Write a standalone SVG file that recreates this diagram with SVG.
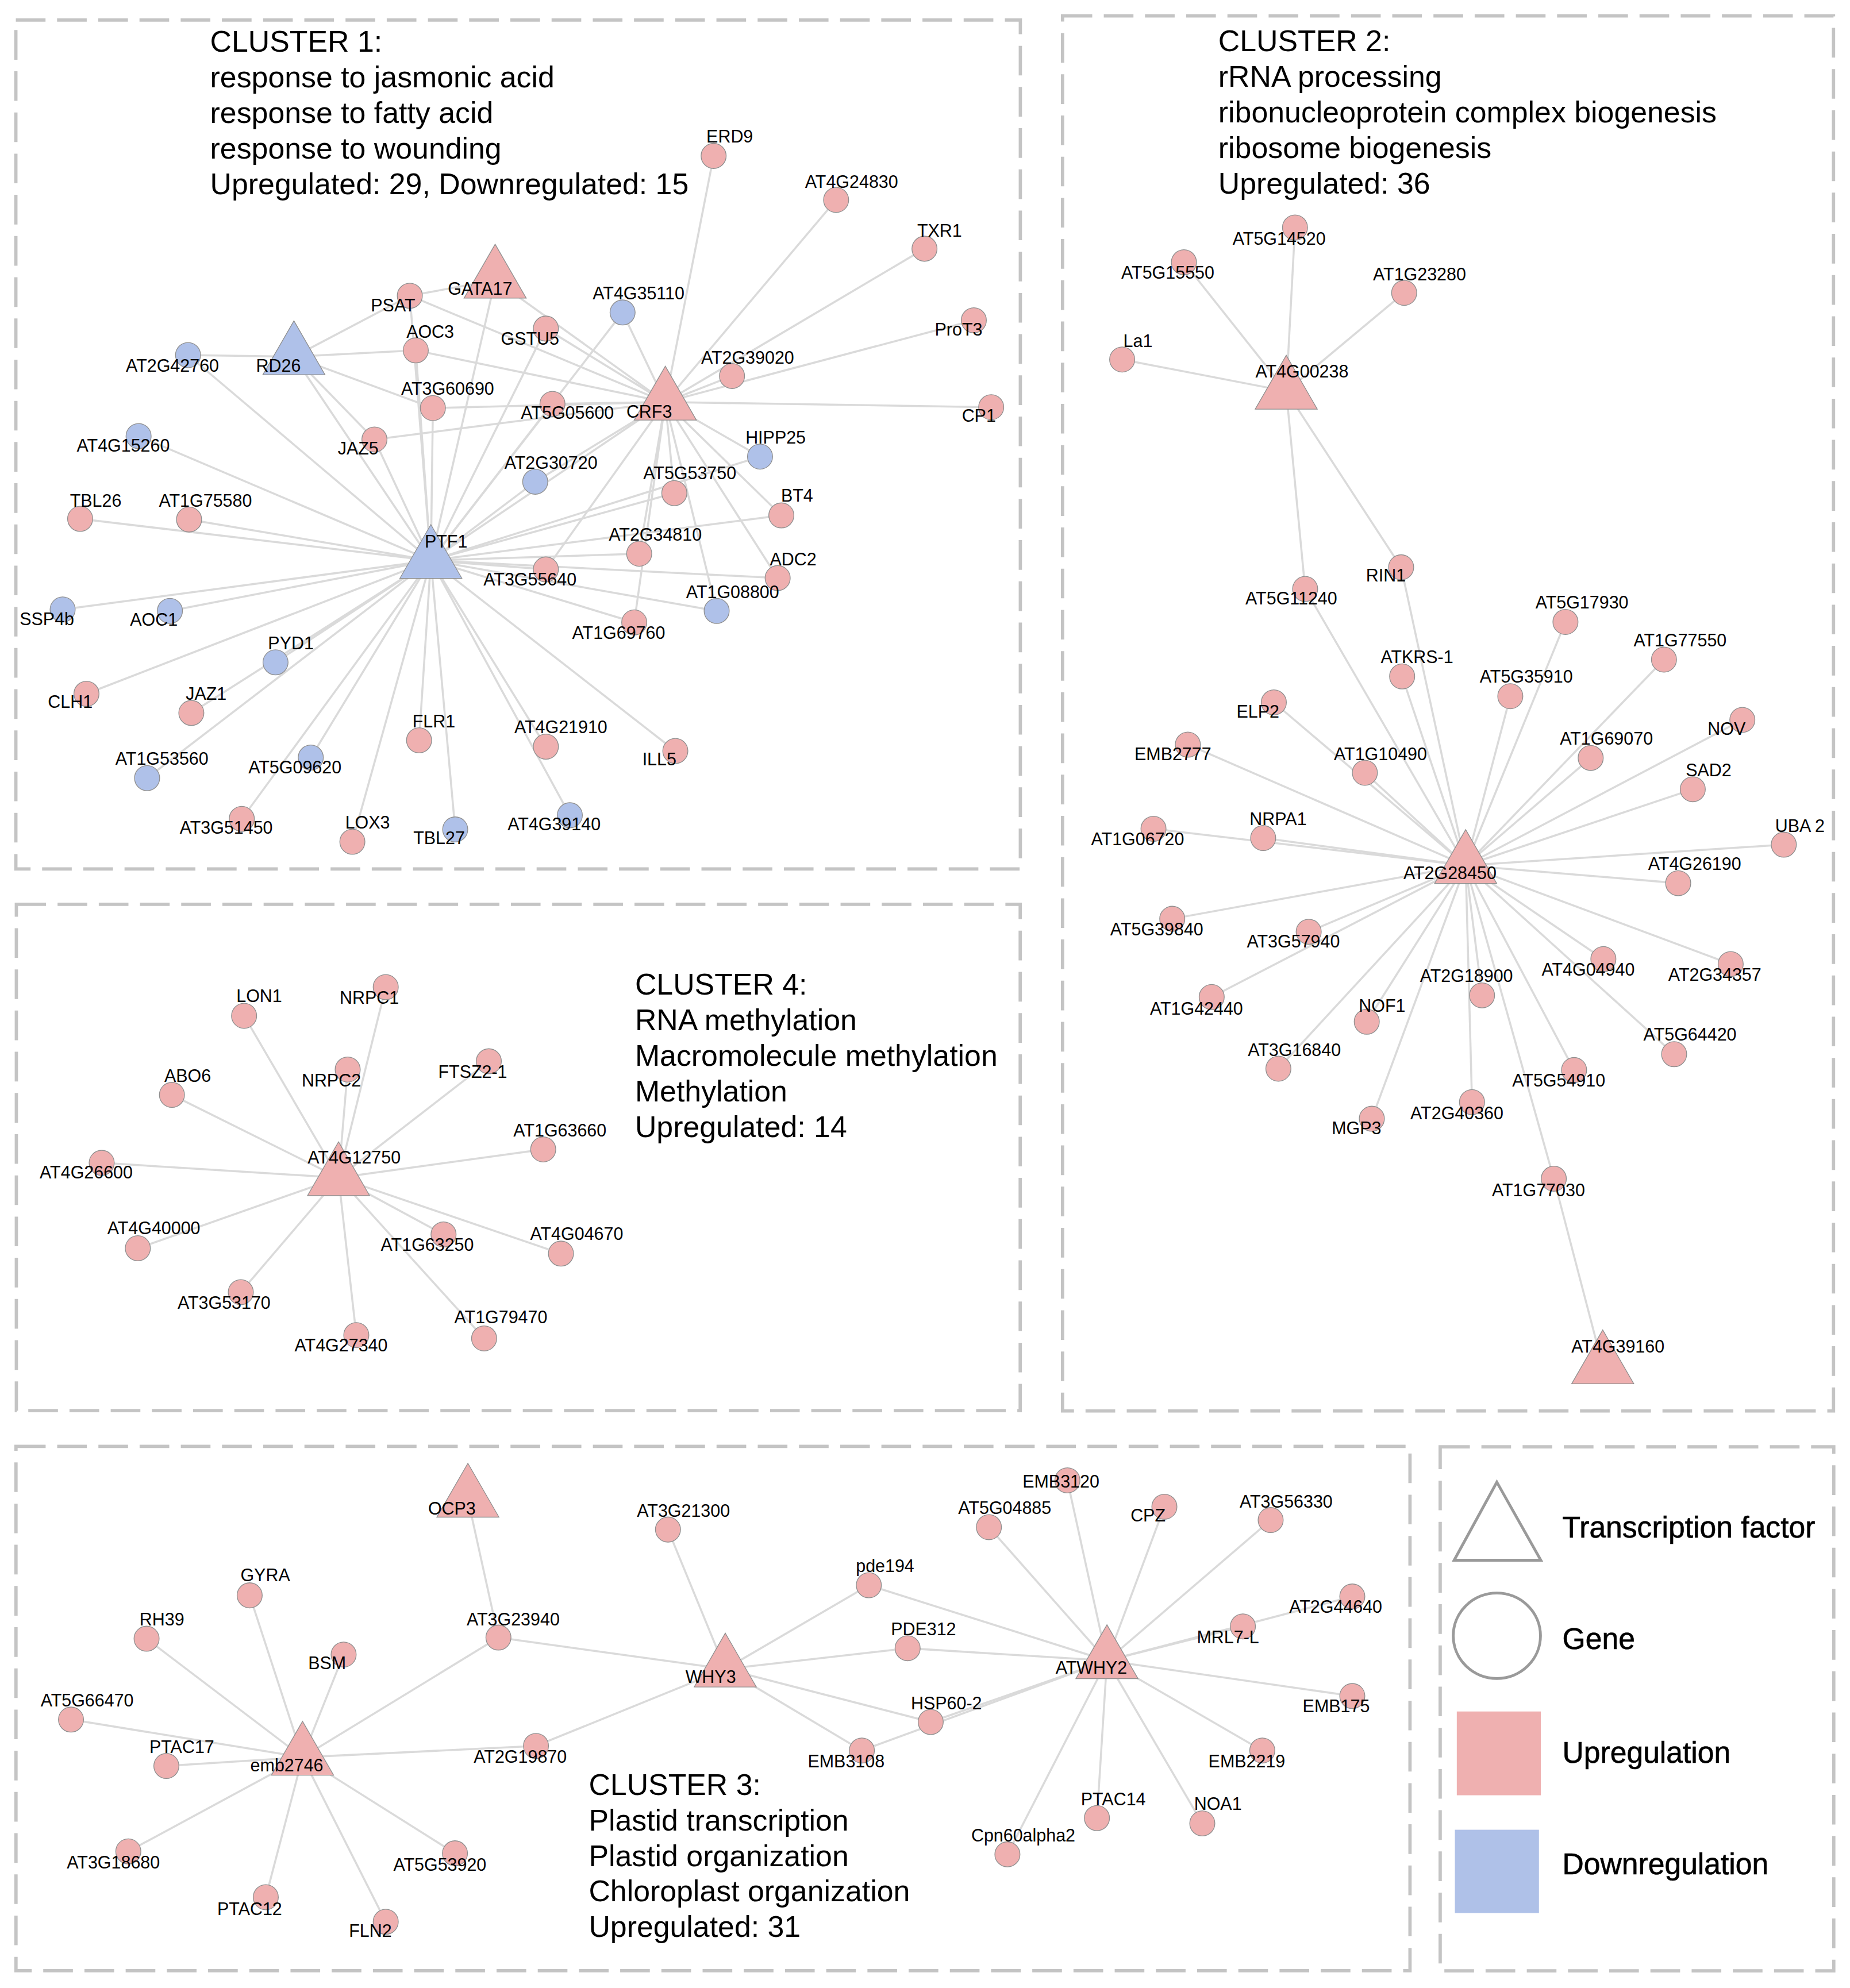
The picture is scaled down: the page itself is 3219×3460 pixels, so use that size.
<svg xmlns="http://www.w3.org/2000/svg" width="3219" height="3460" viewBox="0 0 3219 3460">
<style>
.e line{stroke:#dadada;stroke-width:1.6;fill:none}
.up{fill:#efb0b0;stroke:#8f8f8f;stroke-width:0.6}
.dn{fill:#afc1e9;stroke:#8f8f8f;stroke-width:0.6}
.l{font-family:"Liberation Sans",Arial,sans-serif;font-size:13.8px;text-anchor:middle;fill:#000}
.t{font-family:"Liberation Sans",Arial,sans-serif;font-size:23.5px;fill:#000}
.box{fill:none;stroke:#c4c4c4;stroke-width:2.6;stroke-dasharray:23.4 9.1}
.lg{font-family:"Liberation Sans",Arial,sans-serif;font-size:23.4px;fill:#000;stroke:#000;stroke-width:0.3}
.lgs{fill:#fff;stroke:#9a9a9a;stroke-width:2.2}
</style>
<rect width="3219" height="3460" fill="#fff"/>
<g transform="scale(2.2063)">
<g id="frames">
<rect class="box" x="12.5" y="15.8" width="792.2" height="669.7"/>
<rect class="box" x="838" y="12.5" width="608" height="1100.5"/>
<rect class="box" x="12.9" y="713.4" width="791.7" height="399.4"/>
<rect class="box" x="12.6" y="1141" width="1099.4" height="413.6"/>
<rect class="box" x="1135.8" y="1141.3" width="310.4" height="413.4"/>
</g>
<g id="titles">
<text class="t" x="165.7" y="40.6">CLUSTER 1:<tspan x="165.7" dy="28.1">response to jasmonic acid</tspan><tspan x="165.7" dy="28.1">response to fatty acid</tspan><tspan x="165.7" dy="28.1">response to wounding</tspan><tspan x="165.7" dy="28.1">Upregulated: 29, Downregulated: 15</tspan></text>
<text class="t" x="960.8" y="40.3">CLUSTER 2:<tspan x="960.8" dy="28.1">rRNA processing</tspan><tspan x="960.8" dy="28.1">ribonucleoprotein complex biogenesis</tspan><tspan x="960.8" dy="28.1">ribosome biogenesis</tspan><tspan x="960.8" dy="28.1">Upregulated: 36</tspan></text>
<text class="t" x="500.8" y="784.4">CLUSTER 4:<tspan x="500.8" dy="28.1">RNA methylation</tspan><tspan x="500.8" dy="28.1">Macromolecule methylation</tspan><tspan x="500.8" dy="28.1">Methylation</tspan><tspan x="500.8" dy="28.1">Upregulated: 14</tspan></text>
<text class="t" x="464.3" y="1416">CLUSTER 3:<tspan x="464.3" dy="28">Plastid transcription</tspan><tspan x="464.3" dy="28">Plastid organization</tspan><tspan x="464.3" dy="28">Chloroplast organization</tspan><tspan x="464.3" dy="28">Upregulated: 31</tspan></text>
</g>
<g id="connectors" class="e">
<line x1="339.8" y1="442.1" x2="148.3" y2="280.1"/>
<line x1="339.8" y1="442.1" x2="231.8" y2="281.4"/>
<line x1="339.8" y1="442.1" x2="295.3" y2="346.7"/>
<line x1="339.8" y1="442.1" x2="390.5" y2="221"/>
<line x1="339.8" y1="442.1" x2="323.2" y2="233.3"/>
<line x1="339.8" y1="442.1" x2="327.9" y2="276.4"/>
<line x1="339.8" y1="442.1" x2="341.4" y2="321.9"/>
<line x1="339.8" y1="442.1" x2="435.7" y2="318.6"/>
<line x1="339.8" y1="442.1" x2="430.5" y2="259.2"/>
<line x1="339.8" y1="442.1" x2="491" y2="246.5"/>
<line x1="339.8" y1="442.1" x2="422.1" y2="380"/>
<line x1="339.8" y1="442.1" x2="524.7" y2="317.2"/>
<line x1="339.8" y1="442.1" x2="531.8" y2="389"/>
<line x1="339.8" y1="442.1" x2="599.4" y2="360.2"/>
<line x1="339.8" y1="442.1" x2="616.2" y2="406.6"/>
<line x1="339.8" y1="442.1" x2="504.1" y2="436.8"/>
<line x1="339.8" y1="442.1" x2="430.5" y2="449.2"/>
<line x1="339.8" y1="442.1" x2="613.3" y2="456"/>
<line x1="339.8" y1="442.1" x2="565.2" y2="481.9"/>
<line x1="339.8" y1="442.1" x2="500.2" y2="491"/>
<line x1="339.8" y1="442.1" x2="109.3" y2="344"/>
<line x1="339.8" y1="442.1" x2="63.2" y2="409.3"/>
<line x1="339.8" y1="442.1" x2="149.1" y2="409.8"/>
<line x1="339.8" y1="442.1" x2="49.4" y2="480.8"/>
<line x1="339.8" y1="442.1" x2="134" y2="481.9"/>
<line x1="339.8" y1="442.1" x2="68.2" y2="547.3"/>
<line x1="339.8" y1="442.1" x2="217.3" y2="522.5"/>
<line x1="339.8" y1="442.1" x2="150.9" y2="562.4"/>
<line x1="339.8" y1="442.1" x2="116" y2="613.8"/>
<line x1="339.8" y1="442.1" x2="245.1" y2="597.6"/>
<line x1="339.8" y1="442.1" x2="190.7" y2="646"/>
<line x1="339.8" y1="442.1" x2="277.9" y2="664"/>
<line x1="339.8" y1="442.1" x2="330.5" y2="584"/>
<line x1="339.8" y1="442.1" x2="359" y2="654.3"/>
<line x1="339.8" y1="442.1" x2="430.5" y2="589"/>
<line x1="339.8" y1="442.1" x2="449.4" y2="643.1"/>
<line x1="339.8" y1="442.1" x2="532.6" y2="592.4"/>
<line x1="524.7" y1="317.2" x2="390.5" y2="221"/>
<line x1="524.7" y1="317.2" x2="323.2" y2="233.3"/>
<line x1="524.7" y1="317.2" x2="327.9" y2="276.4"/>
<line x1="524.7" y1="317.2" x2="341.4" y2="321.9"/>
<line x1="524.7" y1="317.2" x2="430.5" y2="259.2"/>
<line x1="524.7" y1="317.2" x2="491" y2="246.5"/>
<line x1="524.7" y1="317.2" x2="435.7" y2="318.6"/>
<line x1="524.7" y1="317.2" x2="562.8" y2="123"/>
<line x1="524.7" y1="317.2" x2="659.4" y2="157.7"/>
<line x1="524.7" y1="317.2" x2="729.1" y2="196.2"/>
<line x1="524.7" y1="317.2" x2="768" y2="252.7"/>
<line x1="524.7" y1="317.2" x2="577.3" y2="296.6"/>
<line x1="524.7" y1="317.2" x2="781.7" y2="321.2"/>
<line x1="524.7" y1="317.2" x2="599.4" y2="360.2"/>
<line x1="524.7" y1="317.2" x2="422.1" y2="380"/>
<line x1="524.7" y1="317.2" x2="531.8" y2="389"/>
<line x1="524.7" y1="317.2" x2="616.2" y2="406.6"/>
<line x1="524.7" y1="317.2" x2="504.1" y2="436.8"/>
<line x1="524.7" y1="317.2" x2="430.5" y2="449.2"/>
<line x1="524.7" y1="317.2" x2="613.3" y2="456"/>
<line x1="524.7" y1="317.2" x2="565.2" y2="481.9"/>
<line x1="524.7" y1="317.2" x2="500.2" y2="491"/>
<line x1="524.7" y1="317.2" x2="295.3" y2="346.7"/>
<line x1="231.8" y1="281.4" x2="148.3" y2="280.1"/>
<line x1="231.8" y1="281.4" x2="323.2" y2="233.3"/>
<line x1="231.8" y1="281.4" x2="327.9" y2="276.4"/>
<line x1="231.8" y1="281.4" x2="341.4" y2="321.9"/>
<line x1="231.8" y1="281.4" x2="295.3" y2="346.7"/>
<line x1="390.5" y1="221" x2="323.2" y2="233.3"/>
<line x1="1014.4" y1="308.6" x2="1021.3" y2="179.5"/>
<line x1="1014.4" y1="308.6" x2="933.7" y2="206.9"/>
<line x1="1014.4" y1="308.6" x2="1107.4" y2="231"/>
<line x1="1014.4" y1="308.6" x2="885" y2="283.6"/>
<line x1="1014.4" y1="308.6" x2="1029.3" y2="464.6"/>
<line x1="1014.4" y1="308.6" x2="1105" y2="447.5"/>
<line x1="1155.9" y1="682.7" x2="1105" y2="447.5"/>
<line x1="1155.9" y1="682.7" x2="1029.3" y2="464.6"/>
<line x1="1155.9" y1="682.7" x2="1234.6" y2="490.6"/>
<line x1="1155.9" y1="682.7" x2="1312.3" y2="520.3"/>
<line x1="1155.9" y1="682.7" x2="1105.8" y2="533.6"/>
<line x1="1155.9" y1="682.7" x2="1191.1" y2="549.2"/>
<line x1="1155.9" y1="682.7" x2="1004.6" y2="554.1"/>
<line x1="1155.9" y1="682.7" x2="1374.1" y2="567.9"/>
<line x1="1155.9" y1="682.7" x2="936.8" y2="587.4"/>
<line x1="1155.9" y1="682.7" x2="1076.4" y2="609.6"/>
<line x1="1155.9" y1="682.7" x2="1254.5" y2="597.9"/>
<line x1="1155.9" y1="682.7" x2="1335" y2="622.6"/>
<line x1="1155.9" y1="682.7" x2="909.7" y2="653.8"/>
<line x1="1155.9" y1="682.7" x2="996.2" y2="661.1"/>
<line x1="1155.9" y1="682.7" x2="1406.8" y2="666.3"/>
<line x1="1155.9" y1="682.7" x2="1323.5" y2="696.7"/>
<line x1="1155.9" y1="682.7" x2="924.5" y2="724.8"/>
<line x1="1155.9" y1="682.7" x2="1032.1" y2="735"/>
<line x1="1155.9" y1="682.7" x2="1264.5" y2="756.6"/>
<line x1="1155.9" y1="682.7" x2="1364.9" y2="760.5"/>
<line x1="1155.9" y1="682.7" x2="1168.8" y2="785.2"/>
<line x1="1155.9" y1="682.7" x2="955.6" y2="786.5"/>
<line x1="1155.9" y1="682.7" x2="1077.9" y2="806"/>
<line x1="1155.9" y1="682.7" x2="1008.2" y2="843"/>
<line x1="1155.9" y1="682.7" x2="1320.3" y2="831.6"/>
<line x1="1155.9" y1="682.7" x2="1241.4" y2="844.1"/>
<line x1="1155.9" y1="682.7" x2="1160.9" y2="869.4"/>
<line x1="1155.9" y1="682.7" x2="1081.9" y2="882.5"/>
<line x1="1155.9" y1="682.7" x2="1225.4" y2="929.8"/>
<line x1="1225.4" y1="929.8" x2="1264" y2="1077.4"/>
<line x1="267" y1="929" x2="192.5" y2="801.3"/>
<line x1="267" y1="929" x2="304.2" y2="778.7"/>
<line x1="267" y1="929" x2="135.6" y2="863.7"/>
<line x1="267" y1="929" x2="274.2" y2="843.7"/>
<line x1="267" y1="929" x2="385.5" y2="837.2"/>
<line x1="267" y1="929" x2="428.4" y2="906.7"/>
<line x1="267" y1="929" x2="80.2" y2="917.3"/>
<line x1="267" y1="929" x2="108.7" y2="984.7"/>
<line x1="267" y1="929" x2="349.8" y2="973.8"/>
<line x1="267" y1="929" x2="442.4" y2="988.9"/>
<line x1="267" y1="929" x2="189.9" y2="1019.3"/>
<line x1="267" y1="929" x2="381.8" y2="1055.8"/>
<line x1="267" y1="929" x2="281" y2="1053.2"/>
<line x1="369" y1="1182.6" x2="393.1" y2="1291.8"/>
<line x1="238.6" y1="1386.2" x2="196.9" y2="1258.5"/>
<line x1="238.6" y1="1386.2" x2="115.6" y2="1292.7"/>
<line x1="238.6" y1="1386.2" x2="271" y2="1305.2"/>
<line x1="238.6" y1="1386.2" x2="56" y2="1356.5"/>
<line x1="238.6" y1="1386.2" x2="131.2" y2="1393.1"/>
<line x1="238.6" y1="1386.2" x2="422.7" y2="1377.3"/>
<line x1="238.6" y1="1386.2" x2="101.2" y2="1460.5"/>
<line x1="238.6" y1="1386.2" x2="358.8" y2="1462"/>
<line x1="238.6" y1="1386.2" x2="209.6" y2="1496.6"/>
<line x1="238.6" y1="1386.2" x2="304.2" y2="1516"/>
<line x1="238.6" y1="1386.2" x2="393.1" y2="1291.8"/>
<line x1="572" y1="1316.6" x2="526.8" y2="1206.6"/>
<line x1="572" y1="1316.6" x2="393.1" y2="1291.8"/>
<line x1="572" y1="1316.6" x2="422.7" y2="1377.3"/>
<line x1="572" y1="1316.6" x2="685.2" y2="1250.5"/>
<line x1="572" y1="1316.6" x2="715.8" y2="1300.2"/>
<line x1="572" y1="1316.6" x2="734" y2="1358.4"/>
<line x1="572" y1="1316.6" x2="679.7" y2="1380.9"/>
<line x1="873" y1="1310" x2="685.2" y2="1250.5"/>
<line x1="873" y1="1310" x2="715.8" y2="1300.2"/>
<line x1="873" y1="1310" x2="734" y2="1358.4"/>
<line x1="873" y1="1310" x2="679.7" y2="1380.9"/>
<line x1="873" y1="1310" x2="779.9" y2="1204.7"/>
<line x1="873" y1="1310" x2="841.8" y2="1167.8"/>
<line x1="873" y1="1310" x2="918.3" y2="1188.6"/>
<line x1="873" y1="1310" x2="1002.1" y2="1199.1"/>
<line x1="873" y1="1310" x2="980.2" y2="1283"/>
<line x1="873" y1="1310" x2="1066.5" y2="1259.4"/>
<line x1="873" y1="1310" x2="1066.5" y2="1337.9"/>
<line x1="873" y1="1310" x2="995.5" y2="1380.9"/>
<line x1="873" y1="1310" x2="948.2" y2="1438.4"/>
<line x1="873" y1="1310" x2="865.1" y2="1434.2"/>
<line x1="873" y1="1310" x2="794.5" y2="1462.8"/>
</g>
<g id="nodes-cluster1">
<g id="n-PSAT"><circle class="up" cx="323.2" cy="233.3" r="9.9"/><text class="l" x="310" y="245.6">PSAT</text></g>
<g id="n-AOC3"><circle class="up" cx="327.9" cy="276.4" r="9.9"/><text class="l" x="339.3" y="266.3">AOC3</text></g>
<g id="n-AT2G42760"><circle class="dn" cx="148.3" cy="280.1" r="9.9"/><text class="l" x="136" y="293.3">AT2G42760</text></g>
<g id="n-AT3G60690"><circle class="up" cx="341.4" cy="321.9" r="9.9"/><text class="l" x="353" y="311.5">AT3G60690</text></g>
<g id="n-GSTU5"><circle class="up" cx="430.5" cy="259.2" r="9.9"/><text class="l" x="418" y="271.8">GSTU5</text></g>
<g id="n-AT4G15260"><circle class="dn" cx="109.3" cy="344" r="9.9"/><text class="l" x="97.2" y="356.1">AT4G15260</text></g>
<g id="n-ERD9"><circle class="up" cx="562.8" cy="123" r="9.9"/><text class="l" x="575.5" y="112.5">ERD9</text></g>
<g id="n-AT4G24830"><circle class="up" cx="659.4" cy="157.7" r="9.9"/><text class="l" x="671.6" y="148.3">AT4G24830</text></g>
<g id="n-TXR1"><circle class="up" cx="729.1" cy="196.2" r="9.9"/><text class="l" x="741" y="186.7">TXR1</text></g>
<g id="n-AT4G35110"><circle class="dn" cx="491" cy="246.5" r="9.9"/><text class="l" x="503.6" y="236.2">AT4G35110</text></g>
<g id="n-ProT3"><circle class="up" cx="768" cy="252.7" r="9.9"/><text class="l" x="756" y="264.7">ProT3</text></g>
<g id="n-AT2G39020"><circle class="up" cx="577.3" cy="296.6" r="9.9"/><text class="l" x="589.6" y="286.7">AT2G39020</text></g>
<g id="n-AT5G05600"><circle class="up" cx="435.7" cy="318.6" r="9.9"/><text class="l" x="447.5" y="330.6">AT5G05600</text></g>
<g id="n-CP1"><circle class="up" cx="781.7" cy="321.2" r="9.9"/><text class="l" x="772" y="332.8">CP1</text></g>
<g id="n-HIPP25"><circle class="dn" cx="599.4" cy="360.2" r="9.9"/><text class="l" x="611.7" y="350">HIPP25</text></g>
<g id="n-JAZ5"><circle class="up" cx="295.3" cy="346.7" r="9.9"/><text class="l" x="282.5" y="358.4">JAZ5</text></g>
<g id="n-TBL26"><circle class="up" cx="63.2" cy="409.3" r="9.9"/><text class="l" x="75.5" y="399.6">TBL26</text></g>
<g id="n-AT1G75580"><circle class="up" cx="149.1" cy="409.8" r="9.9"/><text class="l" x="162" y="399.6">AT1G75580</text></g>
<g id="n-SSP4b"><circle class="dn" cx="49.4" cy="480.8" r="9.9"/><text class="l" x="37" y="493.2">SSP4b</text></g>
<g id="n-AOC1"><circle class="dn" cx="134" cy="481.9" r="9.9"/><text class="l" x="121.3" y="493.6">AOC1</text></g>
<g id="n-PYD1"><circle class="dn" cx="217.3" cy="522.5" r="9.9"/><text class="l" x="229.4" y="512.3">PYD1</text></g>
<g id="n-CLH1"><circle class="up" cx="68.2" cy="547.3" r="9.9"/><text class="l" x="55.4" y="558.5">CLH1</text></g>
<g id="n-JAZ1"><circle class="up" cx="150.9" cy="562.4" r="9.9"/><text class="l" x="162.6" y="552.2">JAZ1</text></g>
<g id="n-FLR1"><circle class="up" cx="330.5" cy="584" r="9.9"/><text class="l" x="342.2" y="573.9">FLR1</text></g>
<g id="n-AT1G53560"><circle class="dn" cx="116" cy="613.8" r="9.9"/><text class="l" x="127.7" y="603.2">AT1G53560</text></g>
<g id="n-AT5G09620"><circle class="dn" cx="245.1" cy="597.6" r="9.9"/><text class="l" x="232.6" y="609.9">AT5G09620</text></g>
<g id="n-AT3G51450"><circle class="up" cx="190.7" cy="646" r="9.9"/><text class="l" x="178.4" y="657.7">AT3G51450</text></g>
<g id="n-LOX3"><circle class="up" cx="277.9" cy="664" r="9.9"/><text class="l" x="289.9" y="653.7">LOX3</text></g>
<g id="n-TBL27"><circle class="dn" cx="359" cy="654.3" r="9.9"/><text class="l" x="346.3" y="665.6">TBL27</text></g>
<g id="n-AT2G30720"><circle class="dn" cx="422.1" cy="380" r="9.9"/><text class="l" x="434.5" y="369.7">AT2G30720</text></g>
<g id="n-AT5G53750"><circle class="up" cx="531.8" cy="389" r="9.9"/><text class="l" x="544" y="378.2">AT5G53750</text></g>
<g id="n-BT4"><circle class="up" cx="616.2" cy="406.6" r="9.9"/><text class="l" x="628.6" y="395.8">BT4</text></g>
<g id="n-AT2G34810"><circle class="up" cx="504.1" cy="436.8" r="9.9"/><text class="l" x="516.8" y="426.7">AT2G34810</text></g>
<g id="n-AT3G55640"><circle class="up" cx="430.5" cy="449.2" r="9.9"/><text class="l" x="418" y="462">AT3G55640</text></g>
<g id="n-ADC2"><circle class="up" cx="613.3" cy="456" r="9.9"/><text class="l" x="625.5" y="445.8">ADC2</text></g>
<g id="n-AT1G08800"><circle class="dn" cx="565.2" cy="481.9" r="9.9"/><text class="l" x="577.8" y="471.8">AT1G08800</text></g>
<g id="n-AT1G69760"><circle class="up" cx="500.2" cy="491" r="9.9"/><text class="l" x="487.9" y="504">AT1G69760</text></g>
<g id="n-AT4G21910"><circle class="up" cx="430.5" cy="589" r="9.9"/><text class="l" x="442.3" y="578.4">AT4G21910</text></g>
<g id="n-ILL5"><circle class="up" cx="532.6" cy="592.4" r="9.9"/><text class="l" x="520" y="603.6">ILL5</text></g>
<g id="n-AT4G39140"><circle class="dn" cx="449.4" cy="643.1" r="9.9"/><text class="l" x="437" y="655">AT4G39140</text></g>
<g id="n-GATA17"><path class="up" d="M390.5 192.7l24.5 42.5h-49z"/><text class="l" x="378.6" y="232.4">GATA17</text></g>
<g id="n-RD26"><path class="dn" d="M231.8 253.1l24.5 42.5h-49z"/><text class="l" x="219.6" y="293.3">RD26</text></g>
<g id="n-CRF3"><path class="up" d="M524.7 288.9l24.5 42.5h-49z"/><text class="l" x="512" y="329.5">CRF3</text></g>
<g id="n-PTF1"><path class="dn" d="M339.8 413.8l24.5 42.5h-49z"/><text class="l" x="351.8" y="432">PTF1</text></g>
</g>
<g id="nodes-cluster2">
<g id="n-AT5G14520"><circle class="up" cx="1021.3" cy="179.5" r="9.9"/><text class="l" x="1008.8" y="193">AT5G14520</text></g>
<g id="n-AT5G15550"><circle class="up" cx="933.7" cy="206.9" r="9.9"/><text class="l" x="921" y="219.9">AT5G15550</text></g>
<g id="n-AT1G23280"><circle class="up" cx="1107.4" cy="231" r="9.9"/><text class="l" x="1119.5" y="221.2">AT1G23280</text></g>
<g id="n-La1"><circle class="up" cx="885" cy="283.6" r="9.9"/><text class="l" x="897.4" y="273.7">La1</text></g>
<g id="n-RIN1"><circle class="up" cx="1105" cy="447.5" r="9.9"/><text class="l" x="1093" y="458.6">RIN1</text></g>
<g id="n-AT5G11240"><circle class="up" cx="1029.3" cy="464.6" r="9.9"/><text class="l" x="1018.4" y="476.9">AT5G11240</text></g>
<g id="n-AT5G17930"><circle class="up" cx="1234.6" cy="490.6" r="9.9"/><text class="l" x="1247.6" y="480.2">AT5G17930</text></g>
<g id="n-AT1G77550"><circle class="up" cx="1312.3" cy="520.3" r="9.9"/><text class="l" x="1325" y="509.9">AT1G77550</text></g>
<g id="n-ATKRS-1"><circle class="up" cx="1105.8" cy="533.6" r="9.9"/><text class="l" x="1117.5" y="522.9">ATKRS-1</text></g>
<g id="n-AT5G35910"><circle class="up" cx="1191.1" cy="549.2" r="9.9"/><text class="l" x="1203.7" y="538.5">AT5G35910</text></g>
<g id="n-ELP2"><circle class="up" cx="1004.6" cy="554.1" r="9.9"/><text class="l" x="992" y="566.1">ELP2</text></g>
<g id="n-NOV"><circle class="up" cx="1374.1" cy="567.9" r="9.9"/><text class="l" x="1361.7" y="579.6">NOV</text></g>
<g id="n-EMB2777"><circle class="up" cx="936.8" cy="587.4" r="9.9"/><text class="l" x="925" y="599.7">EMB2777</text></g>
<g id="n-AT1G10490"><circle class="up" cx="1076.4" cy="609.6" r="9.9"/><text class="l" x="1088.7" y="599.7">AT1G10490</text></g>
<g id="n-AT1G69070"><circle class="up" cx="1254.5" cy="597.9" r="9.9"/><text class="l" x="1266.9" y="587.4">AT1G69070</text></g>
<g id="n-SAD2"><circle class="up" cx="1335" cy="622.6" r="9.9"/><text class="l" x="1347.5" y="612.2">SAD2</text></g>
<g id="n-AT1G06720"><circle class="up" cx="909.7" cy="653.8" r="9.9"/><text class="l" x="897.2" y="666.8">AT1G06720</text></g>
<g id="n-NRPA1"><circle class="up" cx="996.2" cy="661.1" r="9.9"/><text class="l" x="1008" y="650.7">NRPA1</text></g>
<g id="n-UBA2"><circle class="up" cx="1406.8" cy="666.3" r="9.9"/><text class="l" x="1419.5" y="656.4">UBA 2</text></g>
<g id="n-AT4G26190"><circle class="up" cx="1323.5" cy="696.7" r="9.9"/><text class="l" x="1336.5" y="686.3">AT4G26190</text></g>
<g id="n-AT5G39840"><circle class="up" cx="924.5" cy="724.8" r="9.9"/><text class="l" x="912.3" y="737.8">AT5G39840</text></g>
<g id="n-AT3G57940"><circle class="up" cx="1032.1" cy="735" r="9.9"/><text class="l" x="1020" y="747.5">AT3G57940</text></g>
<g id="n-AT4G04940"><circle class="up" cx="1264.5" cy="756.6" r="9.9"/><text class="l" x="1252.5" y="769.6">AT4G04940</text></g>
<g id="n-AT2G34357"><circle class="up" cx="1364.9" cy="760.5" r="9.9"/><text class="l" x="1352.4" y="773.5">AT2G34357</text></g>
<g id="n-AT2G18900"><circle class="up" cx="1168.8" cy="785.2" r="9.9"/><text class="l" x="1156.5" y="774.8">AT2G18900</text></g>
<g id="n-AT1G42440"><circle class="up" cx="955.6" cy="786.5" r="9.9"/><text class="l" x="943.6" y="800.3">AT1G42440</text></g>
<g id="n-NOF1"><circle class="up" cx="1077.9" cy="806" r="9.9"/><text class="l" x="1090" y="798.2">NOF1</text></g>
<g id="n-AT3G16840"><circle class="up" cx="1008.2" cy="843" r="9.9"/><text class="l" x="1020.8" y="833.1">AT3G16840</text></g>
<g id="n-AT5G64420"><circle class="up" cx="1320.3" cy="831.6" r="9.9"/><text class="l" x="1332.8" y="821">AT5G64420</text></g>
<g id="n-AT5G54910"><circle class="up" cx="1241.4" cy="844.1" r="9.9"/><text class="l" x="1229.3" y="857.3">AT5G54910</text></g>
<g id="n-AT2G40360"><circle class="up" cx="1160.9" cy="869.4" r="9.9"/><text class="l" x="1149" y="883">AT2G40360</text></g>
<g id="n-MGP3"><circle class="up" cx="1081.9" cy="882.5" r="9.9"/><text class="l" x="1069.8" y="894.6">MGP3</text></g>
<g id="n-AT1G77030"><circle class="up" cx="1225.4" cy="929.8" r="9.9"/><text class="l" x="1213.3" y="943.6">AT1G77030</text></g>
<g id="n-AT4G00238"><path class="up" d="M1014.4 280.3l24.5 42.5h-49z"/><text class="l" x="1026.8" y="298">AT4G00238</text></g>
<g id="n-AT2G28450"><path class="up" d="M1155.9 654.4l24.5 42.5h-49z"/><text class="l" x="1143.5" y="693.3">AT2G28450</text></g>
<g id="n-AT4G39160"><path class="up" d="M1264 1049.1l24.5 42.5h-49z"/><text class="l" x="1276" y="1067">AT4G39160</text></g>
</g>
<g id="nodes-cluster4">
<g id="n-LON1"><circle class="up" cx="192.5" cy="801.3" r="9.9"/><text class="l" x="204.4" y="790.4">LON1</text></g>
<g id="n-NRPC1"><circle class="up" cx="304.2" cy="778.7" r="9.9"/><text class="l" x="291.3" y="791.7">NRPC1</text></g>
<g id="n-ABO6"><circle class="up" cx="135.6" cy="863.7" r="9.9"/><text class="l" x="148" y="853.6">ABO6</text></g>
<g id="n-NRPC2"><circle class="up" cx="274.2" cy="843.7" r="9.9"/><text class="l" x="261.3" y="857.2">NRPC2</text></g>
<g id="n-FTSZ2-1"><circle class="up" cx="385.5" cy="837.2" r="9.9"/><text class="l" x="372.8" y="850.2">FTSZ2-1</text></g>
<g id="n-AT1G63660"><circle class="up" cx="428.4" cy="906.7" r="9.9"/><text class="l" x="441.6" y="896.3">AT1G63660</text></g>
<g id="n-AT4G26600"><circle class="up" cx="80.2" cy="917.3" r="9.9"/><text class="l" x="68" y="929.6">AT4G26600</text></g>
<g id="n-AT4G40000"><circle class="up" cx="108.7" cy="984.7" r="9.9"/><text class="l" x="121.3" y="973.8">AT4G40000</text></g>
<g id="n-AT1G63250"><circle class="up" cx="349.8" cy="973.8" r="9.9"/><text class="l" x="337" y="986.8">AT1G63250</text></g>
<g id="n-AT4G04670"><circle class="up" cx="442.4" cy="988.9" r="9.9"/><text class="l" x="454.8" y="978.2">AT4G04670</text></g>
<g id="n-AT3G53170"><circle class="up" cx="189.9" cy="1019.3" r="9.9"/><text class="l" x="176.7" y="1032.4">AT3G53170</text></g>
<g id="n-AT1G79470"><circle class="up" cx="381.8" cy="1055.8" r="9.9"/><text class="l" x="395" y="1044">AT1G79470</text></g>
<g id="n-AT4G27340"><circle class="up" cx="281" cy="1053.2" r="9.9"/><text class="l" x="269" y="1066.2">AT4G27340</text></g>
<g id="n-AT4G12750"><path class="up" d="M267 900.7l24.5 42.5h-49z"/><text class="l" x="279.3" y="917.9">AT4G12750</text></g>
</g>
<g id="nodes-cluster3">
<g id="n-AT3G21300"><circle class="up" cx="526.8" cy="1206.6" r="9.9"/><text class="l" x="539" y="1196.4">AT3G21300</text></g>
<g id="n-GYRA"><circle class="up" cx="196.9" cy="1258.5" r="9.9"/><text class="l" x="209.2" y="1247.4">GYRA</text></g>
<g id="n-RH39"><circle class="up" cx="115.6" cy="1292.7" r="9.9"/><text class="l" x="127.7" y="1282.1">RH39</text></g>
<g id="n-BSM"><circle class="up" cx="271" cy="1305.2" r="9.9"/><text class="l" x="258" y="1316.8">BSM</text></g>
<g id="n-AT3G23940"><circle class="up" cx="393.1" cy="1291.8" r="9.9"/><text class="l" x="404.7" y="1282.1">AT3G23940</text></g>
<g id="n-AT5G66470"><circle class="up" cx="56" cy="1356.5" r="9.9"/><text class="l" x="68.7" y="1346.2">AT5G66470</text></g>
<g id="n-PTAC17"><circle class="up" cx="131.2" cy="1393.1" r="9.9"/><text class="l" x="143.4" y="1382.9">PTAC17</text></g>
<g id="n-AT2G19870"><circle class="up" cx="422.7" cy="1377.3" r="9.9"/><text class="l" x="410.3" y="1390.6">AT2G19870</text></g>
<g id="n-AT3G18680"><circle class="up" cx="101.2" cy="1460.5" r="9.9"/><text class="l" x="89.4" y="1473.9">AT3G18680</text></g>
<g id="n-AT5G53920"><circle class="up" cx="358.8" cy="1462" r="9.9"/><text class="l" x="346.9" y="1475.8">AT5G53920</text></g>
<g id="n-PTAC12"><circle class="up" cx="209.6" cy="1496.6" r="9.9"/><text class="l" x="196.9" y="1510.5">PTAC12</text></g>
<g id="n-FLN2"><circle class="up" cx="304.2" cy="1516" r="9.9"/><text class="l" x="292.1" y="1527.7">FLN2</text></g>
<g id="n-EMB3120"><circle class="up" cx="841.8" cy="1167.8" r="9.9"/><text class="l" x="836.7" y="1173.3">EMB3120</text></g>
<g id="n-AT5G04885"><circle class="up" cx="779.9" cy="1204.7" r="9.9"/><text class="l" x="792.4" y="1194.2">AT5G04885</text></g>
<g id="n-CPZ"><circle class="up" cx="918.3" cy="1188.6" r="9.9"/><text class="l" x="905.4" y="1200.3">CPZ</text></g>
<g id="n-AT3G56330"><circle class="up" cx="1002.1" cy="1199.1" r="9.9"/><text class="l" x="1014.3" y="1189.4">AT3G56330</text></g>
<g id="n-pde194"><circle class="up" cx="685.2" cy="1250.5" r="9.9"/><text class="l" x="698" y="1240">pde194</text></g>
<g id="n-AT2G44640"><circle class="up" cx="1066.5" cy="1259.4" r="9.9"/><text class="l" x="1053.4" y="1272.4">AT2G44640</text></g>
<g id="n-MRL7-L"><circle class="up" cx="980.2" cy="1283" r="9.9"/><text class="l" x="968.4" y="1296.3">MRL7-L</text></g>
<g id="n-PDE312"><circle class="up" cx="715.8" cy="1300.2" r="9.9"/><text class="l" x="728.3" y="1289.9">PDE312</text></g>
<g id="n-EMB175"><circle class="up" cx="1066.5" cy="1337.9" r="9.9"/><text class="l" x="1053.8" y="1350.9">EMB175</text></g>
<g id="n-HSP60-2"><circle class="up" cx="734" cy="1358.4" r="9.9"/><text class="l" x="746.4" y="1348.2">HSP60-2</text></g>
<g id="n-EMB3108"><circle class="up" cx="679.7" cy="1380.9" r="9.9"/><text class="l" x="667.3" y="1394">EMB3108</text></g>
<g id="n-EMB2219"><circle class="up" cx="995.5" cy="1380.9" r="9.9"/><text class="l" x="983.3" y="1394">EMB2219</text></g>
<g id="n-PTAC14"><circle class="up" cx="865.1" cy="1434.2" r="9.9"/><text class="l" x="878" y="1423.9">PTAC14</text></g>
<g id="n-NOA1"><circle class="up" cx="948.2" cy="1438.4" r="9.9"/><text class="l" x="960.5" y="1427.8">NOA1</text></g>
<g id="n-Cpn60alpha2"><circle class="up" cx="794.5" cy="1462.8" r="9.9"/><text class="l" x="807" y="1452.8">Cpn60alpha2</text></g>
<g id="n-OCP3"><path class="up" d="M369 1154.3l24.5 42.5h-49z"/><text class="l" x="356.4" y="1194.7">OCP3</text></g>
<g id="n-emb2746"><path class="up" d="M238.6 1357.9l24.5 42.5h-49z"/><text class="l" x="226.2" y="1397.3">emb2746</text></g>
<g id="n-WHY3"><path class="up" d="M572 1288.3l24.5 42.5h-49z"/><text class="l" x="560.5" y="1327.4">WHY3</text></g>
<g id="n-ATWHY2"><path class="up" d="M873 1281.7l24.5 42.5h-49z"/><text class="l" x="860.7" y="1320.4">ATWHY2</text></g>
</g>
<g id="legend">
<path class="lgs" d="M1180.5 1169.2L1215.2 1230.8H1146.8Z"/>
<text class="lg" x="1232.2" y="1213">Transcription factor</text>
<ellipse class="lgs" cx="1180.5" cy="1290.4" rx="34.4" ry="33.7"/>
<text class="lg" x="1232.2" y="1301">Gene</text>
<rect x="1148.9" y="1350.1" width="66.3" height="66.1" fill="#efb0b0"/>
<text class="lg" x="1232.2" y="1390.6">Upregulation</text>
<rect x="1147.4" y="1443.4" width="66.3" height="65.7" fill="#afc1e8"/>
<text class="lg" x="1232.2" y="1478.6">Downregulation</text>
</g>
</g>
</svg>
